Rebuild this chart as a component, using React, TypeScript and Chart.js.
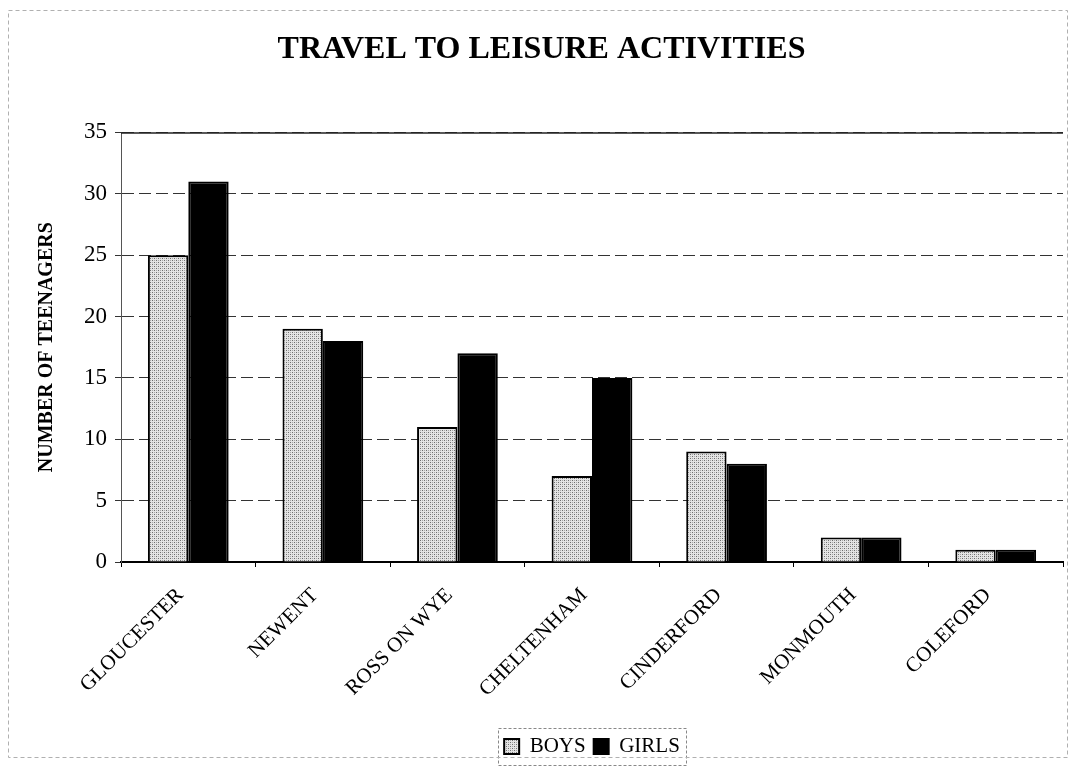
import React, { useEffect, useRef } from "react";
import { Chart, registerables } from "chart.js";

Chart.register(...registerables);

const categories = ["GLOUCESTER", "NEWENT", "ROSS ON WYE", "CHELTENHAM", "CINDERFORD", "MONMOUTH", "COLEFORD"];
const boys = [25, 19, 11, 7, 9, 2, 1];
const girls = [31, 18, 17, 15, 8, 2, 1];
const yMin = 0;
const yMax = 35;
const yStep = 5;
const titleText = "TRAVEL TO LEISURE ACTIVITIES";
const yTitle = "NUMBER OF TEENAGERS";
const seriesNames = ["BOYS", "GIRLS"];

const SERIF = "'Liberation Serif', 'Times New Roman', serif";

function makeDotPattern(): CanvasPattern | string {
  const c = document.createElement("canvas");
  c.width = 4;
  c.height = 4;
  const ctx = c.getContext("2d");
  if (!ctx) return "#cfcfcf";
  ctx.fillStyle = "#e4e4e4";
  ctx.fillRect(0, 0, 4, 4);
  ctx.fillStyle = "#6e6e6e";
  ctx.fillRect(0, 0, 1, 1);
  ctx.fillRect(2, 2, 1, 1);
  ctx.fillStyle = "#a8a8a8";
  ctx.fillRect(2, 0, 1, 1);
  ctx.fillRect(0, 2, 1, 1);
  return ctx.createPattern(c, "repeat") || "#cfcfcf";
}

const decorPlugin = {
  id: "decor",
  afterDraw(chart: any) {
    const ctx = chart.ctx as CanvasRenderingContext2D;
    const area = chart.chartArea;
    ctx.save();
    // solid top line at max
    ctx.strokeStyle = "#222";
    ctx.lineWidth = 1.5;
    ctx.beginPath();
    ctx.moveTo(area.left, area.top + 0.5);
    ctx.lineTo(area.right, area.top + 0.5);
    ctx.stroke();
    // legend frame
    const legend = chart.legend;
    if (legend && legend.legendHitBoxes && legend.legendHitBoxes.length) {
      const boxes = legend.legendHitBoxes;
      const l = boxes[0].left - 6;
      const r = boxes[boxes.length - 1].left + boxes[boxes.length - 1].width + 6;
      const t = boxes[0].top - 8;
      const b = boxes[0].top + boxes[0].height + 8;
      ctx.strokeStyle = "#888";
      ctx.lineWidth = 1;
      ctx.setLineDash([3, 2]);
      ctx.strokeRect(Math.round(l) + 0.5, Math.round(t) + 0.5, Math.round(r - l), Math.round(b - t));
    }
    // faint outer frame
    ctx.strokeStyle = "#b0b0b0";
    ctx.lineWidth = 1;
    ctx.setLineDash([4, 3]);
    ctx.strokeRect(8.5, 10.5, 1059, 747);
    ctx.restore();
  },
};

export default function App() {
  const ref = useRef<HTMLCanvasElement | null>(null);

  useEffect(() => {
    if (!ref.current) return;
    const pattern = makeDotPattern();
    const chart = new Chart(ref.current, {
      type: "bar",
      data: {
        labels: categories,
        datasets: [
          {
            label: seriesNames[0],
            data: boys,
            backgroundColor: pattern as any,
            borderColor: "#000",
            borderWidth: 2,
            categoryPercentage: 0.6,
            barPercentage: 1.0,
          },
          {
            label: seriesNames[1],
            data: girls,
            backgroundColor: "#000",
            borderColor: "#000",
            borderWidth: 2,
            categoryPercentage: 0.6,
            barPercentage: 1.0,
          },
        ],
      },
      options: {
        responsive: false,
        animation: false,
        devicePixelRatio: 1,
        layout: { padding: { left: 20, right: 13, top: 0, bottom: 2 } },
        plugins: {
          title: {
            display: true,
            text: titleText,
            color: "#000",
            font: { family: SERIF, size: 32, weight: "bold" },
            padding: { top: 31, bottom: 63 },
          },
          legend: {
            display: true,
            position: "bottom",
            fullSize: false,
            labels: {
              color: "#000",
              font: { family: SERIF, size: 21 },
              boxWidth: 15,
              boxHeight: 15,
              padding: 8,
            },
          },
          tooltip: { enabled: false },
        },
        scales: {
          x: {
            grid: {
              display: true,
              drawOnChartArea: false,
              drawTicks: true,
              tickLength: 5,
              color: "#000",
              offset: true,
            },
            border: { display: true, color: "#000", width: 2 },
            ticks: {
              autoSkip: false,
              minRotation: 45,
              maxRotation: 45,
              color: "#000",
              padding: 16,
              labelOffset: -8,
              font: { family: SERIF, size: 21 },
            },
            afterFit: (scale: any) => {
              scale.height = 166;
            },
          },
          y: {
            min: yMin,
            max: yMax,
            ticks: {
              stepSize: yStep,
              color: "#000",
              padding: 8,
              font: { family: SERIF, size: 23 },
            },
            grid: {
              color: "#333",
              lineWidth: 1,
              drawTicks: true,
              tickLength: 6,
            },
            border: { display: true, color: "#555", width: 1, dash: [12, 5] },
            title: {
              display: true,
              text: yTitle,
              color: "#000",
              font: { family: SERIF, size: 20, weight: "bold" },
              padding: { top: 15, bottom: 0 },
            },
            afterFit: (scale: any) => {
              scale.width = 101;
            },
          },
        },
      },
      plugins: [decorPlugin],
    } as any);
    return () => chart.destroy();
  }, []);

  return (
    <div style={{ position: "fixed", left: 0, top: 0, width: 1076, height: 769, background: "#fff" }}>
      <canvas ref={ref} width={1076} height={769} style={{ display: "block" }} />
    </div>
  );
}
